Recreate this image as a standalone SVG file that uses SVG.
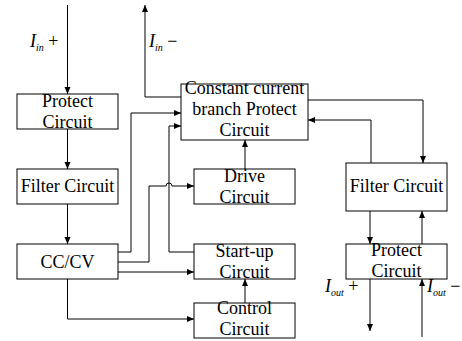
<svg xmlns="http://www.w3.org/2000/svg" width="462" height="341" viewBox="0 0 462 341">
<style>
text{font-family:'Times New Roman',Times,Tinos,'Noto Serif','FreeSerif','Liberation Serif',serif;font-size:18px;fill:#000}
.t{text-anchor:middle}
.b{fill:#fff;stroke:#000;stroke-width:1}
.c{fill:none;stroke:#000;stroke-width:1}
</style>
<defs>
<marker id="a" markerUnits="userSpaceOnUse" markerWidth="8" markerHeight="8" refX="7" refY="3.5" orient="auto">
<path d="M0,0.5 L7,3.5 L0,6.5 Z" fill="#000"/>
</marker>
</defs>
<rect width="462" height="341" fill="#fff"/>
<g id="connectors">
<path class="c" d="M67.5,5 V94" marker-end="url(#a)"/>
<path class="c" d="M181,97 H145 V5" marker-end="url(#a)"/>
<path class="c" d="M67.5,129 V169" marker-end="url(#a)"/>
<path class="c" d="M67.5,204 V244" marker-end="url(#a)"/>
<path class="c" d="M118,252 H131 V113 H181" marker-end="url(#a)"/>
<path class="c" d="M118,262 H149 V186 H166 a3,3 0 0 1 6,0 H194" marker-end="url(#a)"/>
<path class="c" d="M118,272 H194" marker-end="url(#a)"/>
<path class="c" d="M194,252 H169 V126 H181" marker-end="url(#a)"/>
<path class="c" d="M245,169 V140" marker-end="url(#a)"/>
<path class="c" d="M67.5,279 V319 H194" marker-end="url(#a)"/>
<path class="c" d="M245,303 V279" marker-end="url(#a)"/>
<path class="c" d="M308,100 H423 V163" marker-end="url(#a)"/>
<path class="c" d="M371,163 V120 H308" marker-end="url(#a)"/>
<path class="c" d="M370,211 V244" marker-end="url(#a)"/>
<path class="c" d="M422,244 V211" marker-end="url(#a)"/>
<path class="c" d="M370,279 V331" marker-end="url(#a)"/>
<path class="c" d="M422,337 V279" marker-end="url(#a)"/>
</g>
<g id="lbl-in-plus"><text x="30" y="47"><tspan font-style="italic">I</tspan><tspan font-style="italic" font-size="10" dy="4">in</tspan><tspan dy="-4"> +</tspan></text></g>
<g id="lbl-in-minus"><text x="149" y="47"><tspan font-style="italic">I</tspan><tspan font-style="italic" font-size="10" dy="4">in</tspan><tspan dy="-4"> −</tspan></text></g>
<g id="lbl-out-plus"><text x="325" y="292"><tspan font-style="italic">I</tspan><tspan font-style="italic" font-size="10" dy="4">out</tspan><tspan dy="-4"> +</tspan></text></g>
<g id="lbl-out-minus"><text x="427" y="292"><tspan font-style="italic">I</tspan><tspan font-style="italic" font-size="10" dy="4">out</tspan><tspan dy="-4"> −</tspan></text></g>
<g id="protect-left"><rect class="b" x="17" y="94" width="101" height="35"/><text class="t" x="67.5" y="107">Protect</text><text class="t" x="67.5" y="128">Circuit</text></g>
<g id="filter-left"><rect class="b" x="17" y="169" width="101" height="35"/><text class="t" x="67.5" y="192">Filter Circuit</text></g>
<g id="ccv"><rect class="b" x="17" y="244" width="101" height="35"/><text class="t" x="67.5" y="268">CC/CV</text></g>
<g id="ccbp"><rect class="b" x="181" y="84" width="127" height="56"/><text class="t" x="244.5" y="94">Constant current</text><text class="t" x="244.5" y="115">branch Protect</text><text class="t" x="244.5" y="136">Circuit</text></g>
<g id="drive"><rect class="b" x="194" y="169" width="101" height="35"/><text class="t" x="244.5" y="182">Drive</text><text class="t" x="244.5" y="203">Circuit</text></g>
<g id="startup"><rect class="b" x="194" y="244" width="101" height="35"/><text class="t" x="244.5" y="257">Start-up</text><text class="t" x="244.5" y="278">Circuit</text></g>
<g id="control"><rect class="b" x="194" y="303" width="101" height="35"/><text class="t" x="244.5" y="314">Control</text><text class="t" x="244.5" y="335">Circuit</text></g>
<g id="filter-right"><rect class="b" x="346" y="163" width="101" height="48"/><text class="t" x="396.5" y="192">Filter Circuit</text></g>
<g id="protect-right"><rect class="b" x="346" y="244" width="101" height="35"/><text class="t" x="396.5" y="256">Protect</text><text class="t" x="396.5" y="277">Circuit</text></g>
</svg>
